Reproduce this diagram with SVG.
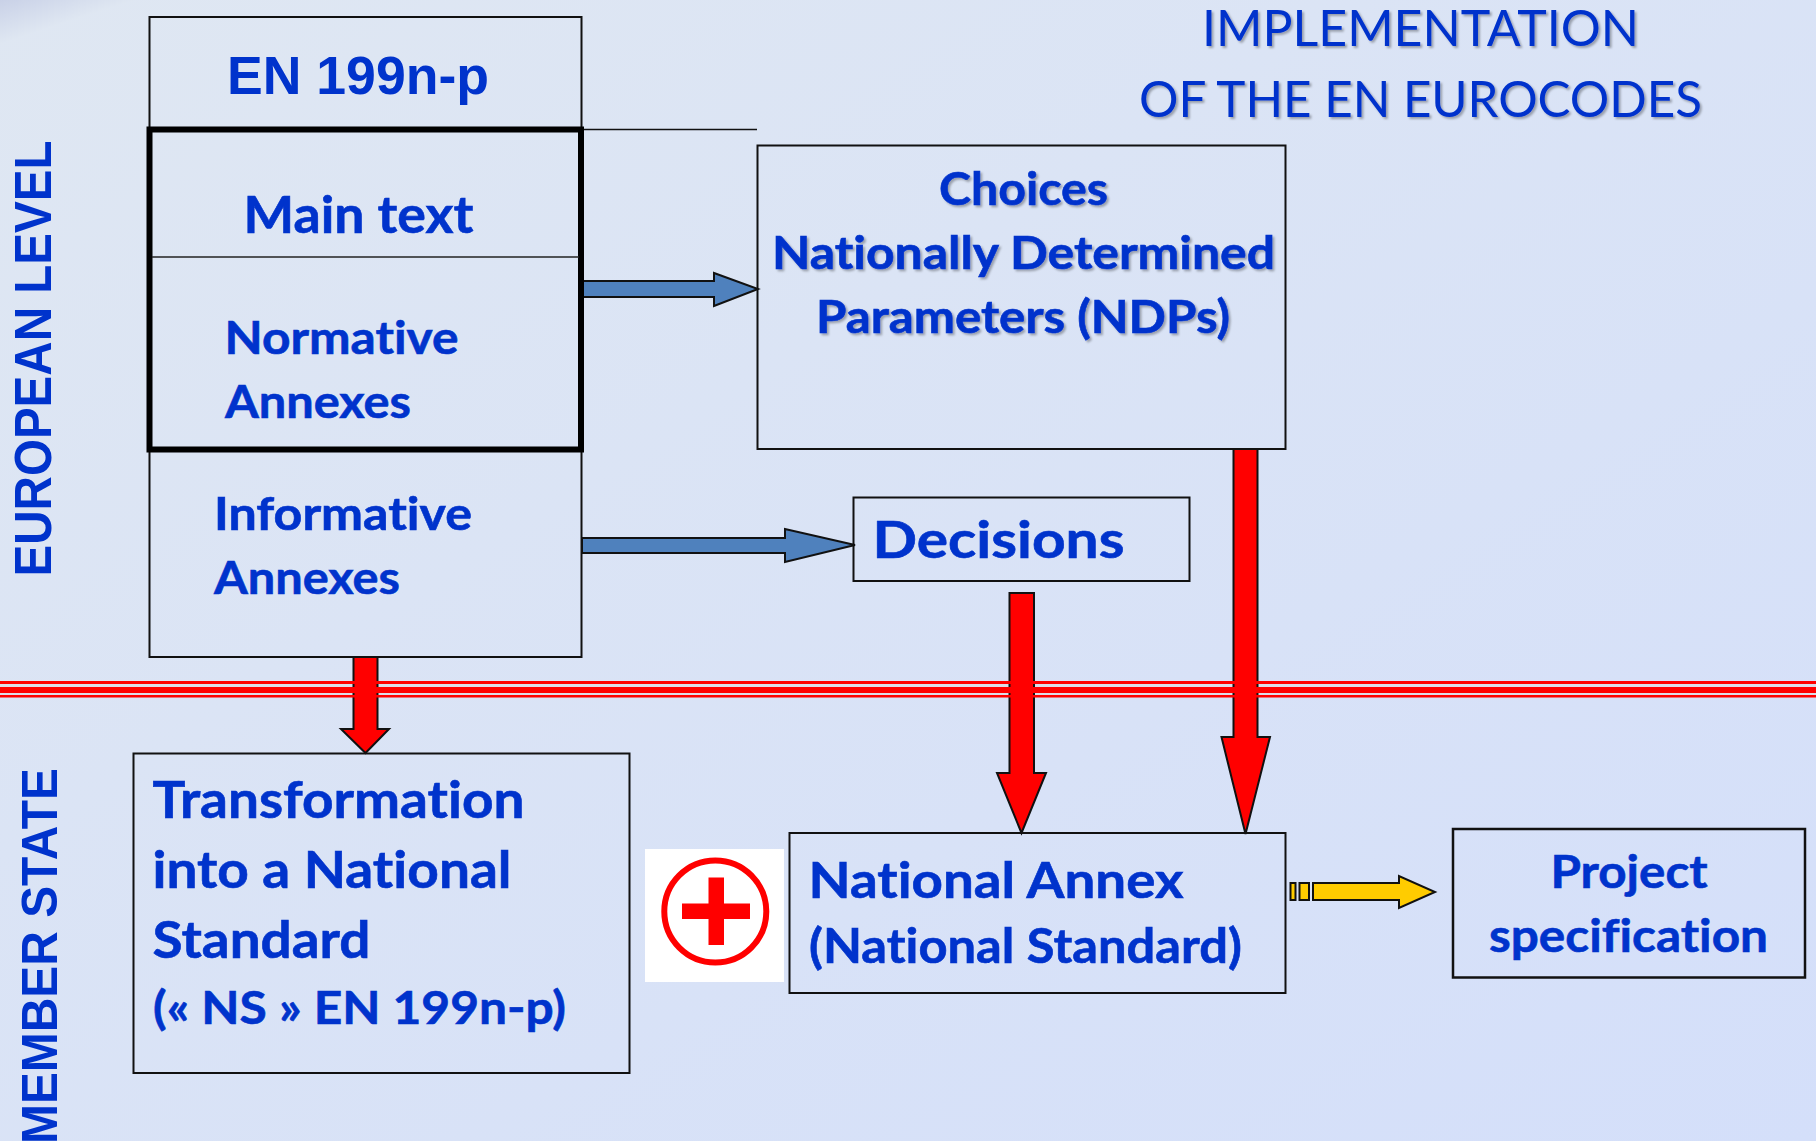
<svg xmlns="http://www.w3.org/2000/svg" width="1816" height="1141" viewBox="0 0 1816 1141">
<style>
.box{fill:none;stroke:#111;stroke-width:2}
text{font-variant-ligatures:none;fill:#0033cc}
.t{font-family:Lato,"Open Sans",sans-serif;font-weight:700;stroke:#0033cc;stroke-width:.6}
.a{font-family:"Liberation Sans",Arial,sans-serif;font-weight:700}
.h{font-family:Lato,"Open Sans",sans-serif;font-weight:400;font-size:50px;filter:url(#sh)}
.blue{fill:#4f81bd;stroke:#111;stroke-width:2}
.red{fill:#ff0000;stroke:#111;stroke-width:2}
.yel{fill:#ffcc00;stroke:#111;stroke-width:2}
.sh{filter:url(#sh)}
</style>
<defs>
<linearGradient id="bg" x1="0" y1="0" x2="1" y2="1"><stop offset="0" stop-color="#dfe7f2"/><stop offset="1" stop-color="#d4dffa"/></linearGradient>
<linearGradient id="corner" gradientUnits="userSpaceOnUse" x1="0" y1="0" x2="13" y2="40"><stop offset="0" stop-color="#c9d1e7"/><stop offset="1" stop-color="#dfe7f2"/></linearGradient>
<filter id="sh" x="-5%" y="-20%" width="110%" height="140%"><feDropShadow dx="2" dy="2" stdDeviation="1" flood-color="#000" flood-opacity="0.3"/></filter>
</defs>
<rect id="background" width="1816" height="1141" fill="url(#bg)"/>
<polygon points="0,0 135,0 0,44" fill="url(#corner)"/>
<rect x="0" y="681" width="1816" height="16.500" fill="#dcdde8"/>
<g id="connectors">
<polygon class="blue" points="582,281 714,281 714,273 758,289 714,306 714,297 582,297"/>
<polygon class="blue" points="582,538 785,538 785,529 855,545 785,562 785,553 582,553"/>
<polygon class="red" points="353.500,657 377.500,657 377.500,729 389,729 365.500,753 341,729 353.500,729"/>
<polygon class="red" points="1009.500,593 1034,593 1034,773 1046,773 1021.500,833 997,773 1009.500,773"/>
<polygon class="red" points="1233.500,449 1257.500,449 1257.500,737 1270,737 1245.500,834 1221.500,737 1233.500,737"/>
<rect class="yel" x="1290.500" y="883" width="5" height="17"/><rect class="yel" x="1299.500" y="883" width="9.500" height="17"/>
<polygon class="yel" points="1313,883 1399,883 1399,876 1435,892 1399,908 1399,900 1313,900"/>
<line x1="581" y1="129.500" x2="757" y2="129.500" stroke="#111" stroke-width="1.500"/>
</g>
<g id="divider"><rect x="0" y="681" width="1816" height="3" fill="#ff0000"/><rect x="0" y="687" width="1816" height="6" fill="#ff0000"/><rect x="0" y="695" width="1816" height="2.500" fill="#ff0000"/></g>
<g id="node-en"><rect class="box" x="149.500" y="17" width="432" height="112"/><text class="a" x="227" y="94" font-size="53" textLength="262" lengthAdjust="spacingAndGlyphs">EN 199n-p</text></g>
<g id="node-informative"><rect class="box" x="149.500" y="450" width="432" height="207"/><text class="t" x="214" y="530" font-size="46" textLength="258" lengthAdjust="spacingAndGlyphs">Informative</text><text class="t" x="214" y="594" font-size="46" textLength="186" lengthAdjust="spacingAndGlyphs">Annexes</text></g>
<g id="node-main"><rect x="149.500" y="129.500" width="431.500" height="320" fill="none" stroke="#000" stroke-width="6"/><line x1="152" y1="257" x2="579" y2="257" stroke="#222" stroke-width="1.500"/><text class="t" x="243.500" y="233" font-size="52" textLength="230" lengthAdjust="spacingAndGlyphs">Main text</text><text class="t" x="224.500" y="354" font-size="46" textLength="234" lengthAdjust="spacingAndGlyphs">Normative</text><text class="t" x="225" y="418" font-size="46" textLength="186" lengthAdjust="spacingAndGlyphs">Annexes</text></g>
<g id="node-choices"><rect class="box" x="757.500" y="145.500" width="528" height="303.500"/><text class="t sh" x="939" y="205" font-size="46" textLength="169" lengthAdjust="spacingAndGlyphs">Choices</text><text class="t sh" x="772" y="268.500" font-size="46" textLength="503" lengthAdjust="spacingAndGlyphs">Nationally Determined</text><text class="t sh" x="816" y="333" font-size="46" textLength="414" lengthAdjust="spacingAndGlyphs">Parameters (NDPs)</text></g>
<g id="node-decisions"><rect class="box" x="853.500" y="497.500" width="336" height="83.500"/><text class="t" x="872.500" y="558" font-size="52" textLength="252" lengthAdjust="spacingAndGlyphs">Decisions</text></g>
<g id="node-transformation"><rect class="box" x="133.500" y="753.500" width="496" height="319.500"/><text class="t" x="152.500" y="817.500" font-size="52" textLength="372" lengthAdjust="spacingAndGlyphs">Transformation</text><text class="t" x="152.500" y="888" font-size="52" textLength="359" lengthAdjust="spacingAndGlyphs">into a National</text><text class="t" x="152.500" y="958" font-size="52" textLength="218" lengthAdjust="spacingAndGlyphs">Standard</text><text class="t" x="153" y="1023.500" font-size="46" textLength="413" lengthAdjust="spacingAndGlyphs">(« NS » EN 199n-p)</text></g>
<g id="node-plus"><rect x="645" y="849" width="139" height="133" fill="#fff"/><ellipse cx="715.300" cy="911.500" rx="51" ry="51" fill="none" stroke="#ff0000" stroke-width="6"/><rect x="708.500" y="877.500" width="15.500" height="67.500" fill="#ff0000"/><rect x="682" y="903.500" width="68" height="15.500" fill="#ff0000"/></g>
<g id="node-national"><rect class="box" x="789.500" y="833" width="496" height="160"/><text class="t" x="808.500" y="898" font-size="50" textLength="375" lengthAdjust="spacingAndGlyphs">National Annex</text><text class="t" x="809" y="963" font-size="47" textLength="433" lengthAdjust="spacingAndGlyphs">(National Standard)</text></g>
<g id="node-project"><rect class="box" x="1453" y="829" width="352" height="148.500" style="stroke-width:2.500"/><text class="t" x="1550.500" y="888" font-size="46" textLength="157" lengthAdjust="spacingAndGlyphs">Project</text><text class="t" x="1489" y="952" font-size="46" textLength="279" lengthAdjust="spacingAndGlyphs">specification</text></g>
<g id="label-title"><text class="h" x="1202" y="46" textLength="437" lengthAdjust="spacingAndGlyphs">IMPLEMENTATION</text><text class="h" x="1139" y="116.500" textLength="563" lengthAdjust="spacingAndGlyphs">OF THE EN EUROCODES</text></g>
<g id="label-european"><text class="a" font-size="51" textLength="436" lengthAdjust="spacingAndGlyphs" transform="translate(51,576.500) rotate(-90)">EUROPEAN LEVEL</text></g>
<g id="label-member"><text class="a" font-size="50" textLength="376" lengthAdjust="spacingAndGlyphs" transform="translate(57,1144) rotate(-90)">MEMBER STATE</text></g>
</svg>
